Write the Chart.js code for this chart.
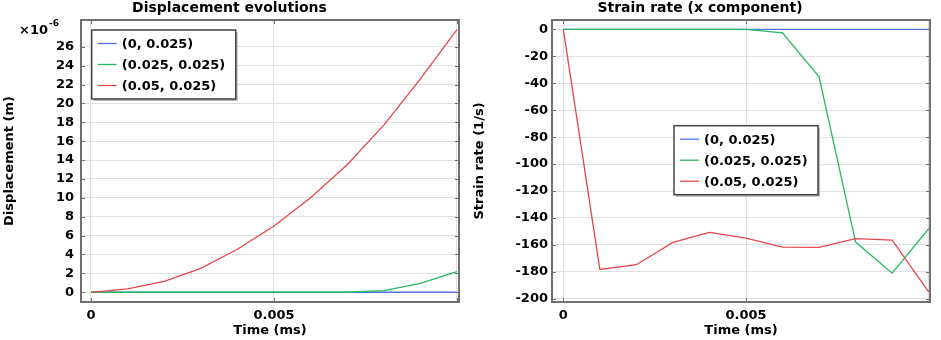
<!DOCTYPE html>
<html>
<head>
<meta charset="utf-8">
<script src="https://cdn.jsdelivr.net/npm/chart.js@4.4.1/dist/chart.umd.min.js"></script>
<style>
  html, body { margin: 0; padding: 0; background: #fff; }
  #wrap { position: relative; width: 941px; height: 340px; }
  canvas { position: absolute; top: 0; }
</style>
</head>
<body>
<div id="wrap">
  <canvas id="disp" width="470" height="340" style="left:0"></canvas>
  <canvas id="rate" width="471" height="340" style="left:470px"></canvas>
</div>
<script>
// time samples (ms)
const timeMs = [0, 0.001, 0.002, 0.003, 0.004, 0.005, 0.006, 0.007, 0.008, 0.009, 0.01];
const seriesNames = ['(0, 0.025)', '(0.025, 0.025)', '(0.05, 0.025)'];
const seriesColors = ['#4f72e8', '#27b960', '#e5474c'];

// displacement, x1e-6 m
const dispA = [0, 0, 0, 0, 0, 0, 0, 0, 0, 0, 0];
const dispB = [0, 0, 0, 0, 0, 0, 0, 0, 0.17, 0.95, 2.18];
const dispC = [0, 0.35, 1.16, 2.54, 4.55, 7.02, 10.0, 13.5, 17.7, 22.6, 27.8];

// strain rate, 1/s
const rateA = [0, 0, 0, 0, 0, 0, 0, 0, 0, 0, 0];
const rateB = [0, 0, 0, 0, 0, 0, -2.5, -35.2, -157.9, -181, -148];
const rateC = [0, -178.2, -174.7, -158.1, -150.7, -154.9, -161.6, -161.9, -155.4, -156.4, -194.8];

// ticks
const timeTicks = [0, 0.005, 0.01];
const timeTickLabels = ['0', '0.005', ''];
const dispTicks = [0, 2, 4, 6, 8, 10, 12, 14, 16, 18, 20, 22, 24, 26];
const rateTicks = [0, -20, -40, -60, -80, -100, -120, -140, -160, -180, -200];

const FONT = 'DejaVu Sans';
Chart.defaults.font.family = FONT;
Chart.defaults.font.size = 13;
Chart.defaults.font.weight = 'bold';
Chart.defaults.color = '#000';

function makeDatasets(seriesList) {
  return seriesList.map((vals, i) => ({
    label: seriesNames[i],
    data: timeMs.map((t, j) => ({ x: t, y: vals[j] })),
    borderColor: seriesColors[i],
    borderWidth: 1.3,
    pointRadius: 0,
    tension: 0,
    order: 3 - i  // red on top, green over blue
  }));
}

// frame round the plot, with small inner ticks
const framePlugin = {
  id: 'frame',
  afterDatasetsDraw(chart) {
    const { ctx, chartArea: a, scales } = chart;
    ctx.save();
    ctx.strokeStyle = '#707070';
    ctx.lineWidth = 2;
    ctx.strokeRect(a.left, a.top, a.right - a.left, a.bottom - a.top);
    ctx.lineWidth = 1;
    ctx.beginPath();
    scales.y.ticks.forEach(t => {
      const py = Math.round(scales.y.getPixelForValue(t.value)) + 0.5;
      ctx.moveTo(a.left, py); ctx.lineTo(a.left + 4, py);
      ctx.moveTo(a.right, py); ctx.lineTo(a.right - 4, py);
    });
    scales.x.ticks.forEach(t => {
      const px = Math.round(scales.x.getPixelForValue(t.value)) + 0.5;
      ctx.moveTo(px, a.top); ctx.lineTo(px, a.top + 4);
      ctx.moveTo(px, a.bottom); ctx.lineTo(px, a.bottom - 4);
    });
    ctx.stroke();
    ctx.restore();
  }
};

// boxed legend inside the plot
const boxLegend = {
  id: 'boxLegend',
  afterDraw(chart, args, opts) {
    const { ctx, chartArea } = chart;
    const x = chartArea.left + opts.dx;
    const y = chartArea.top + opts.dy;
    const w = 144, h = 69;
    ctx.save();
    ctx.fillStyle = '#b5b5b5';
    ctx.fillRect(x + 2, y + 2, w, h);
    ctx.fillStyle = '#fff';
    ctx.fillRect(x, y, w, h);
    ctx.strokeStyle = '#444';
    ctx.lineWidth = 1.5;
    ctx.strokeRect(x, y, w, h);
    ctx.font = 'bold 13px "' + FONT + '"';
    ctx.textBaseline = 'middle';
    chart.data.datasets.forEach((ds, i) => {
      const ry = y + 13.5 + i * 21;
      ctx.strokeStyle = ds.borderColor;
      ctx.lineWidth = 1.3;
      ctx.beginPath();
      ctx.moveTo(x + 6, ry); ctx.lineTo(x + 25, ry);
      ctx.stroke();
      ctx.fillStyle = '#000';
      ctx.fillText(ds.label, x + 30, ry + 1);
    });
    ctx.restore();
  }
};

// the x10^-6 multiplier above the y axis
const expLabel = {
  id: 'expLabel',
  afterDraw(chart, args, opts) {
    if (!opts.base) return;
    const ctx = chart.ctx;
    ctx.save();
    ctx.fillStyle = '#000';
    ctx.textBaseline = 'alphabetic';
    ctx.font = 'bold 13px "' + FONT + '"';
    ctx.fillText(opts.base, 19, 34);
    const w = ctx.measureText(opts.base).width;
    ctx.font = 'bold 9px "' + FONT + '"';
    ctx.fillText(opts.power, 19 + w + 1, 26);
    ctx.restore();
  }
};

function scaleX(min, max) {
  return {
    type: 'linear', min, max,
    afterBuildTicks: s => { s.ticks = timeTicks.map(v => ({ value: v })); },
    afterFit: s => { s.height = 38; },
    ticks: {
      callback: v => timeTickLabels[timeTicks.indexOf(v)],
      padding: 6, maxRotation: 0, autoSkip: false
    },
    grid: { color: '#e0e0e0', lineWidth: 1, drawTicks: false },
    border: { display: false },
    title: { display: true, text: 'Time (ms)', padding: { top: 0, bottom: 2 } }
  };
}

function scaleY(min, max, ticks, width, pad, text) {
  return {
    type: 'linear', min, max,
    afterBuildTicks: s => { s.ticks = ticks.map(v => ({ value: v })); },
    afterFit: s => { s.width = width; },
    ticks: { callback: v => String(v), padding: pad, autoSkip: false },
    grid: { color: '#e0e0e0', lineWidth: 1, drawTicks: false },
    border: { display: false },
    title: { display: true, text, padding: { top: 2, bottom: 0 } }
  };
}

function makeChart(el, title, datasets, xr, y, legendPos, exp) {
  return new Chart(el, {
    type: 'line',
    data: { datasets },
    options: {
      responsive: false,
      animation: false,
      layout: { padding: { top: 0, right: 11, bottom: 0, left: 0 } },
      scales: { x: scaleX(xr[0], xr[1]), y },
      plugins: {
        legend: { display: false },
        tooltip: { enabled: false },
        title: {
          display: true, text: title,
          font: { size: 14, weight: 'bold' },
          padding: { top: 0, bottom: 3.2 }
        },
        boxLegend: legendPos,
        expLabel: exp
      }
    },
    plugins: [framePlugin, boxLegend, expLabel]
  });
}

makeChart(document.getElementById('disp'), 'Displacement evolutions',
  makeDatasets([dispA, dispB, dispC]),
  [-0.000273, 0.010055],
  scaleY(-1.03, 28.83, dispTicks, 81, 7, 'Displacement (m)'),
  { dx: 10.7, dy: 10 },
  { base: '\u00d710', power: '-6' });

makeChart(document.getElementById('rate'), 'Strain rate (x component)',
  makeDatasets([rateA, rateB, rateC]),
  [-0.00031, 0.010036],
  scaleY(-202.4, 7.0, rateTicks, 82, 4, 'Strain rate (1/s)'),
  { dx: 122, dy: 105.7 },
  {});
</script>
</body>
</html>
